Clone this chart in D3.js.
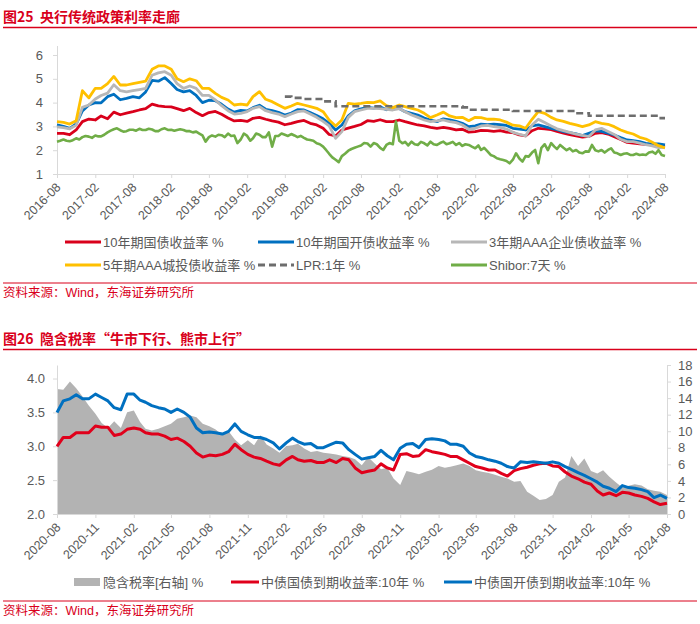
<!DOCTYPE html>
<html><head><meta charset="utf-8">
<script src="https://cdn.jsdelivr.net/npm/d3@7"></script>
<style>
html,body{margin:0;padding:0;background:#fff;}
svg{display:block;font-family:'Liberation Sans',Arial,'Noto Sans CJK SC',sans-serif;}
</style></head><body>
<svg id="c" width="700" height="624"></svg>
<script>
// ---------- Chart 1 data (monthly, 2016-08 .. 2024-08) ----------
const xTicks1 = ["2016-08","2017-02","2017-08","2018-02","2018-08","2019-02","2019-08","2020-02","2020-08","2021-02","2021-08","2022-02","2022-08","2023-02","2023-08","2024-02","2024-08"];
const yTicks1 = [1,2,3,4,5,6];
const cgb10 = [2.71,2.71,2.65,2.85,3.2,3.31,3.27,3.44,3.32,3.6,3.49,3.56,3.62,3.69,3.75,3.94,3.86,3.83,3.82,3.75,3.66,3.76,3.58,3.45,3.58,
 3.63,3.51,3.35,3.23,3.25,3.21,3.34,3.38,3.3,3.23,3.18,3.07,3.13,3.2,3.25,3.13,3.06,2.92,2.66,2.6,2.85,2.93,3.0,3.08,
 3.24,3.21,3.28,3.2,3.2,3.27,3.2,3.13,3.06,3.02,2.96,2.92,2.96,2.92,2.85,2.88,2.76,2.78,2.83,2.82,2.79,2.82,2.76,2.74,
 2.64,2.6,2.82,2.92,2.9,2.86,2.79,2.72,2.65,2.6,2.55,2.58,2.71,2.74,2.68,2.57,2.45,2.33,2.3,2.27,2.25,2.22,2.18,2.15];
const cdb10 = [3.06,3.0,2.92,3.1,3.65,3.9,4.0,3.99,4.25,4.35,4.12,4.18,4.25,4.2,4.45,4.93,4.9,5.05,4.8,4.55,4.45,4.5,4.3,4.0,4.1,
 4.08,3.93,3.73,3.6,3.67,3.65,3.79,3.89,3.72,3.66,3.59,3.48,3.56,3.7,3.69,3.58,3.46,3.32,3.13,2.85,3.06,3.44,3.65,3.74,
 3.8,3.77,3.82,3.7,3.76,3.75,3.62,3.55,3.48,3.35,3.27,3.2,3.32,3.27,3.21,3.13,2.99,3.02,3.1,3.07,3.1,3.07,3.04,2.92,
 2.89,2.85,3.02,3.06,2.99,2.92,2.86,2.78,2.74,2.69,2.61,2.71,2.81,2.79,2.72,2.64,2.53,2.43,2.4,2.36,2.29,2.26,2.27,2.22];
const corp3 = [2.98,2.95,2.9,3.05,3.8,3.9,4.15,4.3,4.4,4.75,4.5,4.45,4.5,4.55,4.6,5.15,5.25,5.3,5.15,4.8,4.6,4.7,4.6,4.3,4.3,
 4.11,3.87,3.66,3.52,3.55,3.62,3.76,3.83,3.66,3.58,3.52,3.41,3.52,3.62,3.65,3.52,3.38,3.21,3.02,2.5,2.78,3.38,3.62,3.69,
 3.76,3.76,3.75,3.72,3.69,3.75,3.62,3.48,3.38,3.27,3.2,3.23,3.27,3.2,3.16,3.06,2.88,2.92,3.02,3.04,2.99,2.96,2.89,2.75,
 2.67,2.6,3.06,3.3,3.16,3.02,2.9,2.82,2.75,2.68,2.62,2.57,2.85,2.92,2.79,2.66,2.46,2.36,2.36,2.3,2.23,2.18,2.11,2.12];
const lgfv5 = [3.2,3.17,3.1,3.24,4.5,4.2,4.6,4.6,4.8,5.1,4.74,4.74,4.8,4.85,4.9,5.4,5.54,5.54,5.4,5.0,4.88,5.0,4.92,4.6,4.6,
 4.39,4.22,4.11,3.9,3.94,3.9,4.25,4.46,4.14,4.04,3.9,3.76,3.86,3.97,3.9,3.83,3.76,3.62,3.27,3.02,3.27,3.97,3.94,3.97,
 4.01,4.0,4.07,3.87,3.79,3.9,3.83,3.76,3.69,3.55,3.37,3.48,3.6,3.44,3.37,3.38,3.24,3.38,3.37,3.3,3.31,3.27,3.18,3.05,
 3.02,2.92,3.3,3.62,3.55,3.38,3.27,3.21,3.13,3.06,2.99,3.06,3.2,3.13,3.09,2.99,2.85,2.75,2.68,2.54,2.47,2.33,2.19,2.1];
// LPR 1Y, monthly from 2019-08
const lpr1y = [4.25,4.2,4.2,4.15,4.15,4.15,4.05,4.05,3.85,3.85,3.85,3.85,3.85,3.85,3.85,3.85,3.85,3.85,3.85,3.85,3.85,3.85,3.85,3.85,3.85,3.85,3.85,3.85,3.8,3.7,
 3.7,3.7,3.7,3.7,3.7,3.7,3.65,3.65,3.65,3.65,3.65,3.65,3.65,3.65,3.65,3.65,3.55,3.55,3.45,3.45,3.45,3.45,3.45,3.45,3.45,3.45,3.45,3.45,3.45,3.35,3.35];
// Shibor 7D, twice a month
const shibor7d = [2.36,2.4, 2.45,2.4, 2.38,2.42, 2.5,2.45, 2.55,2.6, 2.57,2.52, 2.62,2.58, 2.58,2.65, 2.75,2.82, 2.88,2.92,
 2.84,2.78, 2.8,2.86, 2.86,2.82, 2.9,2.85, 2.85,2.9, 2.87,2.8, 2.8,2.88, 2.92,2.85, 2.86,2.82, 2.85,2.88,
 2.85,2.8, 2.8,2.75, 2.78,2.7, 2.62,2.36, 2.55,2.62, 2.57,2.65, 2.63,2.55, 2.7,2.6, 2.62,2.3, 2.45,2.7,
 2.6,2.4, 2.5,2.7, 2.65,2.55, 2.55,2.75, 2.15,2.6, 2.6,2.7, 2.65,2.6, 2.68,2.62, 2.55,2.6, 2.52,2.45,
 2.43,2.4, 2.29,2.25, 2.15,2.0, 1.85,1.7, 1.6,1.5, 1.75,1.85, 1.98,2.05, 2.1,2.15, 2.2,2.3, 2.28,2.15,
 2.3,2.25, 2.1,2.01, 2.22,2.3, 2.25,3.2, 2.4,2.29, 2.35,2.2, 2.36,2.25, 2.22,2.35, 2.29,2.2, 2.36,2.25,
 2.22,2.3, 2.36,2.25, 2.29,2.35, 2.22,2.3, 2.18,2.25, 2.22,2.15, 2.08,2.2, 2.01,2.1, 1.95,1.8, 1.75,1.66,
 1.62,1.59, 1.55,1.45, 1.6,1.87, 1.65,1.52, 1.75,1.73, 1.9,2.01, 1.45,2.1, 2.25,2.0, 2.3,2.15, 2.05,2.22,
 2.1,2.0, 2.08,1.95, 2.01,1.9, 1.87,1.95, 1.94,2.22, 2.0,1.95, 2.01,1.9, 2.01,2.08, 1.9,1.87, 1.8,1.85,
 1.87,1.8, 1.8,1.85, 1.8,1.82, 1.8,1.9, 1.94,1.85, 2.0,1.8, 1.76];
const legend1 = ["10年期国债收益率 %","10年期国开债收益率 %","3年期AAA企业债收益率 %","5年期AAA城投债收益率 %","LPR:1年 %","Shibor:7天 %"];

// ---------- Chart 2 data (twice a month, 2020-08 .. 2024-08) ----------
const xTicks2 = ["2020-08","2020-11","2021-02","2021-05","2021-08","2021-11","2022-02","2022-05","2022-08","2022-11","2023-02","2023-05","2023-08","2023-11","2024-02","2024-05","2024-08"];
const yTicksL = [2.0,2.5,3.0,3.5,4.0];
const yTicksR = [0,2,4,6,8,10,12,14,16,18];
const taxRate = [15.1,15.0,16.0,15.2,14.2,13.1,12.1,11.0,10.4,11.2, 10.4,12.3,12.5,11.1,10.3,10.1,10.3,10.6,10.9,11.5,
 11.7,11.9,11.7,10.9,10.6,10.2,9.5,10.0,9.0,8.3, 8.9,8.3,9.5,8.4,7.9,7.4,8.2,8.3,8.5,7.9, 7.5,7.6,7.4,7.3,7.2,7.0,6.9,
 6.6,5.9,6.9,6.1,5.4,5.6,4.3,3.5,5.2,5.0, 4.8,5.1,5.35,5.8,5.6,5.7,5.9,6.1,5.8,5.3, 5.1,4.95,4.75,4.5,4.3,3.9,4.0,2.7,2.2,1.7,
 1.8,2.3,3.9,4.4,7.0,5.8,6.7,5.2,4.9,5.3, 4.5,3.8,3.2,3.4,3.6,3.45,3.0,2.8,2.7,2.3];
const cgbYield = [3.0,3.13,3.13,3.2,3.2,3.2,3.3,3.28,3.28,3.16, 3.18,3.25,3.27,3.25,3.2,3.18,3.18,3.15,3.1,3.12,
 3.07,3.0,2.9,2.84,2.87,2.86,2.88,2.92,3.03,2.95, 2.88,2.84,2.82,2.78,2.74,2.72,2.8,2.85,2.8,2.78, 2.79,2.76,2.76,2.8,2.76,2.82,2.8,
 2.68,2.61,2.63,2.65,2.74,2.68,2.65,2.88,2.89,2.85, 2.86,2.95,2.92,2.9,2.88,2.85,2.85,2.8,2.75,2.7,
 2.68,2.65,2.65,2.6,2.56,2.64,2.67,2.69,2.72,2.74, 2.75,2.71,2.7,2.62,2.56,2.52,2.47,2.44,2.34,2.28, 2.31,2.27,2.32,2.31,2.28,2.26,2.23,2.18,2.14,2.16];
const cdbYield = [3.5,3.67,3.7,3.76,3.7,3.7,3.77,3.72,3.67,3.57, 3.54,3.77,3.77,3.68,3.65,3.6,3.57,3.55,3.5,3.55,
 3.5,3.43,3.27,3.2,3.21,3.2,3.18,3.22,3.33,3.22, 3.17,3.13,3.13,3.1,3.05,2.96,3.05,3.12,3.07,3.03, 3.04,2.98,2.98,3.02,3.06,3.05,2.95,
 2.88,2.81,2.83,2.85,2.94,2.86,2.8,2.97,3.03,3.04, 2.98,3.1,3.11,3.1,3.08,3.03,3.03,3.0,2.9,2.85,
 2.83,2.8,2.78,2.75,2.7,2.68,2.77,2.76,2.77,2.76, 2.75,2.77,2.75,2.7,2.66,2.61,2.57,2.52,2.47,2.41, 2.38,2.33,2.42,2.39,2.38,2.36,2.33,2.24,2.28,2.23];
const legend2 = ["隐含税率[右轴] %","中债国债到期收益率:10年 %","中债国开债到期收益率:10年 %"];

// ---------- drawing ----------
const svg = d3.select("#c");
const RED = "#d9001b", AX = "#d9d9d9", TXT = "#595959", SRC = "#d9001b";
const parse = d3.timeParse("%Y-%m");

function header(title, y, ruleY) {
  svg.append("text").attr("x",3).attr("y",y).attr("fill",RED).attr("font-weight","bold")
    .attr("font-size",14).style("white-space","pre")
    .attr("font-family","'Noto Sans CJK SC','Liberation Sans',sans-serif").text(title);
  svg.append("line").attr("x1",3).attr("x2",697).attr("y1",ruleY).attr("y2",ruleY)
    .attr("stroke",RED).attr("stroke-width",1.5);
}
function source(ruleY, y) {
  svg.append("line").attr("x1",3).attr("x2",697).attr("y1",ruleY).attr("y2",ruleY)
    .attr("stroke",RED).attr("stroke-width",1);
  svg.append("text").attr("x",3).attr("y",y).attr("fill",SRC).attr("font-size",12.5)
    .text("资料来源：Wind，东海证券研究所");
}
function styleAxis(g) {
  g.selectAll("path.domain").attr("stroke",AX);
  g.selectAll(".tick line").attr("stroke",AX);
  g.selectAll(".tick text").attr("fill",TXT).attr("font-size",13)
   .attr("font-family","'Liberation Sans',Arial,sans-serif");
}
function rotLabels(g) {
  g.selectAll(".tick text").attr("text-anchor","end").attr("dy",0).attr("y",0)
    .attr("transform","translate(4,14) rotate(-45)").attr("font-size",12.5);
}
const semiDates = (y,m,n) => d3.range(n).map(k => new Date(y, m + Math.floor(k/2), k%2 ? 16 : 1));

// ===== Chart 1 =====
header("图25  央行传统政策利率走廊", 22, 27.5);
const months1 = d3.timeMonth.range(parse("2016-08"), d3.timeMonth.offset(parse("2024-08"),1));
const x1 = d3.scaleTime().domain([parse("2016-08"), parse("2024-08")]).range([57,665]);
const y1 = d3.scaleLinear().domain([1,6.4]).range([174,45.5]);

const gx1 = svg.append("g").attr("transform","translate(0,174)")
  .call(d3.axisBottom(x1).tickValues(xTicks1.map(parse)).tickFormat(d3.timeFormat("%Y-%m")).tickSize(4).tickSizeOuter(0));
styleAxis(gx1); rotLabels(gx1);
const gy1 = svg.append("g").attr("transform","translate(57,0)")
  .call(d3.axisLeft(y1).tickValues(yTicks1).tickFormat(d3.format("d")).tickSize(4).tickSizeOuter(0).tickPadding(10));
styleAxis(gy1);

const line1 = d3.line().x(d=>x1(d[0])).y(d=>y1(d[1]));
const series1 = [
  {v:cgb10, c:"#d9001b"},
  {v:cdb10, c:"#0070c0"},
  {v:corp3, c:"#b7b7b7"},
  {v:lgfv5, c:"#ffc000"}
];
series1.forEach(s=>{
  svg.append("path").datum(s.v.map((v,i)=>[months1[i],v]))
    .attr("fill","none").attr("stroke",s.c).attr("stroke-width",2.8).attr("stroke-linejoin","round")
    .attr("d",line1);
});
svg.append("path").datum(lpr1y.map((v,i)=>[months1[36+i],v]))
  .attr("fill","none").attr("stroke","#6d6d6d").attr("stroke-width",2.6).attr("stroke-dasharray","7,4")
  .attr("d",d3.line().x(d=>x1(d[0])).y(d=>y1(d[1])).curve(d3.curveStepAfter));
const semi1 = semiDates(2016,7,shibor7d.length);
svg.append("path").datum(shibor7d.map((v,k)=>[semi1[k],v]))
  .attr("fill","none").attr("stroke","#70ad47").attr("stroke-width",2.6).attr("stroke-linejoin","round")
  .attr("d",line1);

// legend 1
const leg1 = [
  {t:legend1[0],c:"#d9001b",x:65,y:242},
  {t:legend1[1],c:"#0070c0",x:258,y:242},
  {t:legend1[2],c:"#b7b7b7",x:451,y:242},
  {t:legend1[3],c:"#ffc000",x:65,y:265},
  {t:legend1[4],c:"#6d6d6d",x:258,y:265,dash:true},
  {t:legend1[5],c:"#70ad47",x:451,y:265}
];
leg1.forEach(l=>{
  svg.append("line").attr("x1",l.x).attr("x2",l.x+36).attr("y1",l.y).attr("y2",l.y)
    .attr("stroke",l.c).attr("stroke-width",3).attr("stroke-dasharray",l.dash?"7,4":null);
  svg.append("text").attr("x",l.x+38).attr("y",l.y+4.5).attr("fill",TXT).attr("font-size",13).text(l.t);
});
source(283, 297);

// ===== Chart 2 =====
header("图26  隐含税率“牛市下行、熊市上行”", 344, 349.5);
const semi2 = semiDates(2020,7,taxRate.length);
const x2 = d3.scaleTime().domain([parse("2020-08"), parse("2024-08")]).range([57,667]);
const yL = d3.scaleLinear().domain([2,4.2]).range([514,365]);
const yR = d3.scaleLinear().domain([0,18]).range([514,365]);

svg.append("path").datum(taxRate.map((v,i)=>[semi2[i],v]))
  .attr("fill","#b3b3b3")
  .attr("d",d3.area().x(d=>x2(d[0])).y0(yR(0)).y1(d=>yR(d[1])));

const gx2 = svg.append("g").attr("transform","translate(0,514)")
  .call(d3.axisBottom(x2).tickValues(xTicks2.map(parse)).tickFormat(d3.timeFormat("%Y-%m")).tickSize(4).tickSizeOuter(0));
styleAxis(gx2); rotLabels(gx2);
const gyL = svg.append("g").attr("transform","translate(57,0)")
  .call(d3.axisLeft(yL).tickValues(yTicksL).tickFormat(d3.format(".1f")).tickSize(4).tickSizeOuter(0).tickPadding(8));
styleAxis(gyL);
const gyR = svg.append("g").attr("transform","translate(667,0)")
  .call(d3.axisRight(yR).tickValues(yTicksR).tickSize(4).tickSizeOuter(0).tickPadding(7));
styleAxis(gyR);

const lineL = d3.line().x(d=>x2(d[0])).y(d=>yL(d[1]));
svg.append("path").datum(cgbYield.map((v,i)=>[semi2[i],v]))
  .attr("fill","none").attr("stroke","#e0001b").attr("stroke-width",3).attr("stroke-linejoin","round").attr("d",lineL);
svg.append("path").datum(cdbYield.map((v,i)=>[semi2[i],v]))
  .attr("fill","none").attr("stroke","#0070c0").attr("stroke-width",3).attr("stroke-linejoin","round").attr("d",lineL);

// legend 2
svg.append("rect").attr("x",74).attr("y",578).attr("width",26).attr("height",8).attr("fill","#b3b3b3");
svg.append("text").attr("x",103).attr("y",586.5).attr("fill",TXT).attr("font-size",13).text(legend2[0]);
svg.append("line").attr("x1",231).attr("x2",259).attr("y1",582).attr("y2",582).attr("stroke","#e0001b").attr("stroke-width",3);
svg.append("text").attr("x",261).attr("y",586.5).attr("fill",TXT).attr("font-size",13).text(legend2[1]);
svg.append("line").attr("x1",444).attr("x2",472).attr("y1",582).attr("y2",582).attr("stroke","#0070c0").attr("stroke-width",3);
svg.append("text").attr("x",474).attr("y",586.5).attr("fill",TXT).attr("font-size",13).text(legend2[2]);
source(601, 615);
</script>
</body></html>
